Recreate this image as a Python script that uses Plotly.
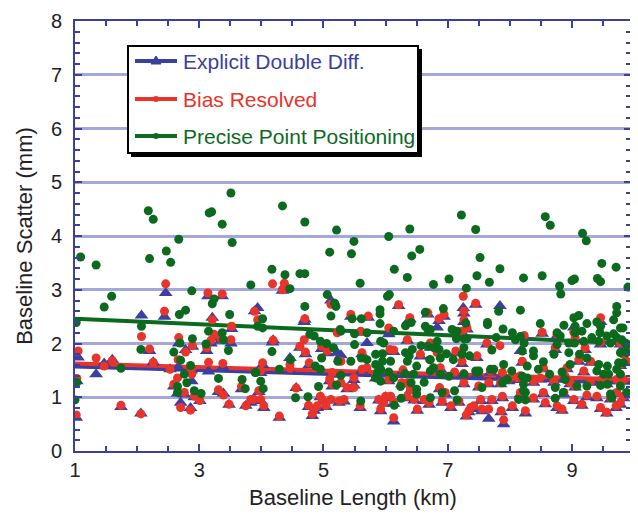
import plotly.graph_objects as go

# ---- data ----
pair_x = [1.02,1.03,1.05,1.34,1.47,1.60,1.74,2.06,2.07,2.20,2.26,2.44,2.46,2.53,2.59,2.65,2.66,2.67,2.70,2.76,
          2.78,2.86,2.87,2.88,2.89,2.92,3.01,3.12,3.14,3.15,3.19,3.21,3.24,3.31,3.35,3.37,3.38,3.39,3.48,3.51,
          3.52,3.68,3.75,3.83,3.88,3.89,
          3.94,3.96,3.99,3.99,4.02,4.04,4.18,4.19,4.29,4.34,4.37,4.46,4.46,4.56,4.62,4.69,4.70,4.71,4.76,4.77,
          4.82,4.85,4.90,4.95,4.97,4.98,5.04,5.06,5.10,5.12,5.12,5.14,5.14,5.22,5.25,
          5.28,5.28,5.33,5.38,5.44,5.49,5.49,5.59,5.60,5.62,5.62,5.70,5.72,5.84,5.89,5.89,5.92,5.97,6.00,6.05,
          6.05,6.07,6.08,6.13,6.13,6.13,6.21,6.26,6.28,6.35,6.35,6.35,6.39,6.40,6.46,6.51,6.56,6.62,6.68,6.70,6.72,
          6.72,6.83,6.86,6.87,6.88,6.91,6.94,6.96,7.05,7.11,7.13,7.18,7.23,7.23,7.25,7.26,7.26,7.26,7.26,7.30,
          7.31,7.34,7.37,7.42,7.45,7.47,7.47,7.50,7.53,7.55,7.63,7.66,7.66,7.69,7.71,7.84,7.85,7.86,7.88,7.88,
          7.90,7.98,8.04,8.06,8.12,8.17,
          8.17,8.20,8.23,8.25,8.38,8.38,8.49,8.52,8.54,8.54,8.57,8.71,8.73,8.76,8.76,8.84,8.87,8.89,8.92,8.97,
          9.03,9.03,9.05,9.05,9.11,9.16,9.19,9.21,9.24,9.30,9.30,9.40,9.46,9.46,9.46,9.48,9.56,9.56,9.62,9.71,
          9.72,9.72,9.78,9.78,9.78,9.83,9.83,9.83,9.88]
red_y = [0.67,1.35,1.86,1.73,1.58,1.68,0.85,0.69,2.13,1.90,1.65,2.60,3.11,1.52,1.24,1.36,1.70,2.11,0.81,1.09,
         1.84,0.76,1.52,1.43,1.96,1.02,0.94,1.92,2.94,1.65,2.06,2.44,2.17,1.14,2.09,2.92,1.63,1.04,0.87,2.07,
         2.32,1.20,0.84,0.96,0.96,2.60,
         2.44,1.12,1.49,0.96,1.64,0.84,3.11,2.06,0.65,3.00,3.12,1.61,1.54,1.17,1.95,2.07,2.46,1.84,0.85,1.64,
         0.69,0.78,0.84,1.02,1.95,0.96,0.84,1.86,1.33,2.73,0.96,1.46,1.24,2.20,0.93,
         1.67,1.27,0.96,1.18,2.54,1.36,1.18,0.84,2.23,1.83,1.52,1.55,2.51,1.39,1.49,0.96,0.78,0.90,1.02,2.29,
         1.33,1.89,1.02,1.88,0.91,0.62,2.72,1.27,1.51,2.07,1.27,1.02,2.48,1.15,0.96,0.78,1.80,0.96,2.57,0.90,1.95,
         2.01,1.83,2.46,1.18,1.55,0.93,2.54,1.09,0.84,1.47,1.86,0.93,2.23,1.67,2.88,2.60,2.44,1.44,1.27,0.67,
         2.29,0.75,0.81,0.84,2.75,1.77,1.46,1.21,0.96,0.78,2.01,1.27,0.78,1.49,0.96,1.96,1.27,0.75,1.46,1.02,
         0.58,1.33,0.84,1.39,1.36,1.40,
         1.09,1.67,2.15,0.75,1.30,0.99,1.36,2.21,1.55,1.09,0.90,1.30,1.92,2.17,0.84,0.78,1.09,1.39,1.55,1.27,
         2.21,0.96,2.11,1.21,1.70,0.87,1.49,1.92,1.04,1.67,1.30,1.02,2.48,2.02,0.81,1.33,1.27,0.72,0.99,0.84,
         1.33,1.09,2.01,1.61,0.90,1.80,1.33,1.02,1.67]
blue_y = [0.62,1.30,1.74,1.43,1.63,1.70,0.82,0.70,2.52,1.86,1.65,2.50,2.94,1.52,1.20,1.07,1.56,2.00,0.90,1.05,
          1.88,0.80,1.50,1.30,1.94,1.00,0.93,1.86,2.88,1.48,2.00,2.48,2.10,1.10,2.05,2.88,1.56,1.07,0.86,2.00,
          2.27,1.15,0.84,0.90,0.96,2.60,
          2.66,1.10,1.45,0.93,1.60,0.80,2.02,2.06,0.62,2.98,3.06,1.73,1.50,1.17,1.92,2.40,2.44,1.80,0.82,1.60,
          0.65,0.75,0.80,1.00,1.90,0.92,0.82,1.82,1.30,2.80,0.94,1.42,1.20,1.83,0.90,
          1.78,1.25,0.92,1.15,2.50,1.32,1.22,0.80,2.20,1.80,1.50,2.01,2.48,1.35,1.46,0.94,0.74,0.88,1.00,2.17,
          1.30,1.85,0.98,1.84,0.88,0.55,2.70,1.24,1.48,2.05,1.24,0.98,2.45,1.12,0.94,0.75,1.76,0.93,2.54,0.86,1.92,
          1.98,2.30,2.42,1.15,1.52,0.90,2.50,1.05,0.80,1.44,1.82,0.90,2.20,1.62,2.66,2.56,2.40,1.40,1.24,0.64,
          2.26,0.72,0.78,0.80,2.72,1.73,1.43,1.18,0.93,0.74,1.98,1.24,0.60,1.46,0.93,2.70,1.24,0.72,1.42,0.98,
          0.50,1.30,0.80,1.36,1.32,1.86,
          1.05,1.64,2.12,0.70,1.27,0.96,1.33,2.18,1.52,1.06,0.87,1.27,1.88,2.14,0.80,0.75,1.05,1.36,1.52,1.24,
          2.30,0.93,2.08,1.18,1.66,0.84,1.46,1.88,1.00,1.64,1.27,0.98,2.40,1.98,0.78,1.30,1.24,0.70,0.96,0.80,
          1.30,1.06,1.98,1.58,0.86,1.92,1.30,0.98,1.64]

green_x = [1.00,1.03,1.02,1.09,1.34,1.47,1.59,1.74,2.06,2.07,2.18,2.20,2.26,2.47,2.54,2.59,2.65,2.65,2.67,2.68,
           2.69,2.70,2.76,2.78,2.80,2.86,2.88,2.89,2.92,3.03,3.11,3.15,3.16,3.20,3.21,3.24,3.31,3.37,3.37,3.39,
           3.47,3.49,3.51,3.53,3.69,3.74,3.83,3.90,
           3.91,3.94,3.99,4.02,4.02,4.03,4.17,4.17,4.29,4.34,4.38,4.46,4.47,4.55,4.62,4.70,4.70,4.70,4.75,4.78,
           4.85,4.87,4.92,4.95,4.95,4.97,5.05,5.06,5.10,5.12,5.16,5.18,5.20,5.21,5.21,5.23,5.27,5.28,
           5.28,5.44,5.45,5.46,5.49,5.50,5.50,5.59,5.60,5.61,5.61,5.70,5.70,5.84,5.84,5.84,5.87,5.91,5.91,5.91,
           5.92,5.92,5.92,5.95,5.95,5.97,6.03,6.05,6.05,6.06,6.08,6.13,6.13,6.14,6.14,6.24,6.25,6.31,6.32,6.32,
           6.35,6.35,6.38,6.39,6.41,6.41,6.42,6.43,6.45,6.50,6.50,6.50,6.55,6.57,6.62,6.64,6.64,6.68,6.68,6.71,
           6.72,6.72,6.77,6.78,
           6.72,6.72,6.77,6.83,6.86,6.88,6.88,6.91,6.93,6.98,7.02,7.02,7.07,7.09,7.11,7.14,7.15,7.15,7.22,7.23,
           7.26,7.26,7.26,7.29,7.30,7.31,7.35,7.45,7.45,7.47,7.47,7.50,7.52,7.55,7.64,7.64,7.67,7.69,7.71,7.74,
           7.78,7.82,7.84,7.88,7.89,7.90,7.96,8.03,8.04,8.09,8.14,8.17,8.17,8.20,8.22,8.22,8.22,
           8.20,8.23,8.25,8.25,8.28,8.28,8.38,8.38,8.46,8.49,8.52,8.54,8.57,8.64,8.65,8.71,8.73,8.73,8.76,8.76,
           8.80,8.81,8.82,8.84,8.86,8.87,8.89,8.95,8.95,8.97,9.00,9.03,9.04,9.04,9.05,9.05,9.08,9.11,9.12,9.16,
           9.17,9.19,9.23,9.24,9.24,9.24,9.32,9.40,9.40,9.41,9.43,9.43,9.45,9.46,9.46,9.46,9.48,9.51,9.56,9.57,
           9.57,9.59,9.62,9.62,9.64,9.67,9.67,9.71,9.72,9.72,9.72,9.72,9.75,9.78,9.78,9.78,9.78,9.80,9.82,9.83,
           9.86,9.88,9.88,9.90,9.90]
green_y = [0.95,1.28,2.39,3.61,3.46,2.68,2.88,1.54,1.89,2.32,4.47,3.58,4.31,3.72,3.51,1.84,1.20,1.09,3.94,2.54,
           2.01,1.69,1.43,2.62,1.27,1.59,2.98,2.09,1.12,1.07,1.99,2.23,4.43,4.45,2.74,2.83,1.35,4.22,2.20,2.07,
           1.87,2.54,4.80,3.88,1.33,1.16,3.09,1.46,
           1.46,2.32,1.30,2.46,2.29,1.16,3.38,1.85,1.52,4.56,3.28,3.02,1.70,0.99,3.30,3.30,4.26,2.69,1.01,2.17,
           2.14,1.58,1.20,2.04,1.52,1.73,2.00,2.91,3.70,2.51,1.92,2.75,2.69,4.11,1.23,1.67,2.26,1.41,
           2.23,1.67,3.67,2.46,3.90,2.18,1.98,3.12,0.93,2.46,1.73,2.20,1.70,1.80,1.61,1.36,1.46,2.63,2.55,2.37,
           2.04,1.52,1.30,1.81,1.67,2.01,2.88,3.99,1.47,2.91,1.67,2.23,1.36,3.38,0.85,1.20,0.98,1.44,2.33,1.83,
           3.23,1.67,1.77,4.13,2.39,1.27,3.63,1.89,1.43,1.58,1.15,1.06,3.75,1.96,1.28,2.58,2.32,2.26,1.95,1.70,
           1.49,0.99,3.10,1.92,
           2.26,1.70,1.55,2.04,1.89,1.73,1.43,1.09,2.65,1.81,3.20,1.39,2.26,1.70,1.12,2.09,2.23,0.95,4.39,1.80,
           2.09,1.92,1.43,2.38,3.03,2.09,1.77,4.12,1.49,3.26,1.46,1.49,3.60,1.18,2.39,2.35,3.14,1.52,1.88,1.52,
           2.11,2.60,3.39,1.27,2.27,1.61,1.33,1.49,2.20,2.07,0.96,2.62,2.13,1.39,3.22,1.24,1.12,
           1.86,2.01,1.09,0.95,1.58,1.36,1.86,1.77,1.52,2.37,3.26,1.66,4.36,1.43,4.20,1.80,1.18,0.98,2.20,1.98,
           3.07,2.14,2.92,1.47,1.09,2.34,1.33,2.01,1.83,1.61,3.17,2.48,3.20,2.01,2.32,2.20,1.21,2.52,1.80,2.23,
           4.05,2.04,3.91,2.37,1.73,1.21,2.11,2.40,1.49,3.21,2.04,1.61,2.20,3.15,2.32,1.22,3.49,1.43,2.14,1.58,
           1.24,1.43,2.01,1.06,0.99,2.44,2.18,3.42,2.69,2.57,2.11,1.52,1.64,2.29,1.83,1.43,1.21,2.07,2.29,1.64,
           2.01,1.83,1.09,3.05,1.98]

# trend lines (end points)
trend_x = [1.0, 9.95]
blue_trend = [1.57, 1.27]
red_trend = [1.63, 1.33]
green_trend = [2.46, 2.00]

series_names = ["Explicit Double Diff.", "Bias Resolved", "Precise Point Positioning"]

BLUE = "#3b3f9f"
RED = "#e8342a"
GREEN = "#0c6a1f"
AXIS = "#3b3f9f"
FONT = "Liberation Sans, Arial, Helvetica, sans-serif"

# The page body has an 8px margin, so the figure is drawn 8px in from the window edge.
OFF = 8
W, H = 638 - OFF, 514 - OFF
# plot area on screen: x 75..631, y 21..451
ml, mr, mt, mb = 75 - OFF, 7, 21 - OFF, 63
PW, PH = W - ml - mr, H - mt - mb


def sx(px):  # screen x -> paper
    return (px - OFF - ml) / PW


def sy(py):  # screen y -> paper
    return (H - mb - (py - OFF)) / PH


fig = go.Figure()

# trend lines
for ys, c in [(blue_trend, BLUE), (red_trend, RED), (green_trend, GREEN)]:
    fig.add_trace(go.Scatter(x=trend_x, y=ys, mode="lines", line=dict(color=c, width=4),
                             showlegend=False, hoverinfo="skip"))

# scatter points
fig.add_trace(go.Scatter(x=pair_x, y=blue_y, mode="markers", name=series_names[0], showlegend=False,
                         marker=dict(symbol="triangle-up", size=12, color=BLUE, line=dict(width=0))))
fig.add_trace(go.Scatter(x=pair_x, y=red_y, mode="markers", name=series_names[1], showlegend=False,
                         marker=dict(symbol="circle", size=9, color=RED, line=dict(width=0))))
fig.add_trace(go.Scatter(x=green_x, y=green_y, mode="markers", name=series_names[2], showlegend=False,
                         marker=dict(symbol="circle", size=9, color=GREEN, line=dict(width=0))))

# ---- hand-drawn legend box (shadow, frame, samples, labels) ----
shapes = []
shapes.append(dict(type="rect", xref="paper", yref="paper", x0=sx(131), x1=sx(422), y0=sy(157), y1=sy(49),
                   fillcolor="black", line=dict(width=0), layer="above"))
shapes.append(dict(type="rect", xref="paper", yref="paper", x0=sx(128), x1=sx(418), y0=sy(153), y1=sy(46),
                   fillcolor="white", line=dict(color="black", width=2), layer="above"))
row_y = [61, 99, 136]
cols = [BLUE, RED, GREEN]
annotations = []
for i, (name, c, ry) in enumerate(zip(series_names, cols, row_y)):
    shapes.append(dict(type="line", xref="paper", yref="paper", x0=sx(135), x1=sx(177), y0=sy(ry), y1=sy(ry),
                       line=dict(color=c, width=4), layer="above"))
    if i == 0:
        path = f"M {sx(151)} {sy(ry + 3)} L {sx(161)} {sy(ry + 3)} L {sx(156)} {sy(ry - 5)} Z"
        shapes.append(dict(type="path", xref="paper", yref="paper", path=path, fillcolor=c,
                           line=dict(color=c, width=1), layer="above"))
    else:
        shapes.append(dict(type="circle", xref="paper", yref="paper", x0=sx(153), x1=sx(159),
                           y0=sy(ry + 3), y1=sy(ry - 3), fillcolor=c, line=dict(color=c, width=0),
                           layer="above"))
    annotations.append(dict(xref="paper", yref="paper", x=sx(181), y=sy(ry), xanchor="left",
                            yanchor="middle", text=name, showarrow=False,
                            font=dict(family=FONT, size=21, color=c)))

fig.update_layout(
    width=W, height=H,
    margin=dict(l=ml, r=mr, t=mt, b=mb),
    paper_bgcolor="white", plot_bgcolor="white",
    font=dict(family=FONT, size=20, color="#222222"),
    showlegend=False,
    shapes=shapes, annotations=annotations,
)

fig.update_xaxes(range=[1, 9.95], tickvals=[1, 3, 5, 7, 9], ticks="inside", ticklen=7,
                 tickwidth=2, tickcolor=AXIS, showline=True, linecolor=AXIS, linewidth=2,
                 mirror="ticks", showgrid=False, zeroline=False, automargin=False,
                 minor=dict(dtick=0.5, tick0=1, ticks="inside", ticklen=5, tickwidth=1.5,
                            tickcolor=AXIS, showgrid=False),
                 title=dict(text="Baseline Length (km)", font=dict(size=22), standoff=10),
                 tickfont=dict(size=20))
fig.update_yaxes(range=[0, 8], dtick=1, ticks="inside", ticklen=7, tickwidth=2, tickcolor=AXIS,
                 showline=True, linecolor=AXIS, linewidth=2, mirror="ticks", automargin=False,
                 showgrid=True, gridcolor="#a3a7d9", gridwidth=3, zeroline=False,
                 ticklabelstandoff=7,
                 minor=dict(dtick=0.2, ticks="inside", ticklen=5, tickwidth=1.5, tickcolor=AXIS,
                            showgrid=False),
                 title=dict(text="Baseline Scatter (mm)", font=dict(size=22), standoff=12),
                 tickfont=dict(size=20))

fig.write_html("out.html")
